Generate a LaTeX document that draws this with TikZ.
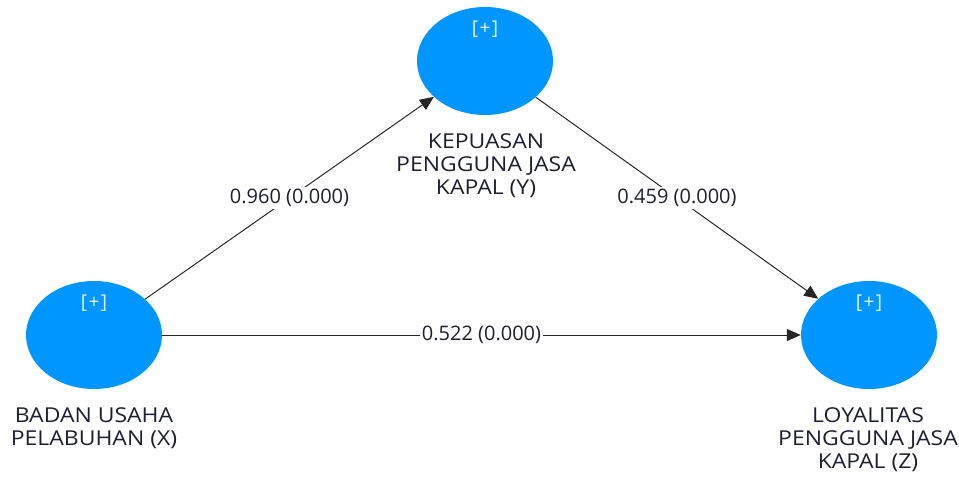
\documentclass[tikz,border=0pt]{standalone}
\usepackage{fontspec}
\setmainfont{Open Sans}
\newfontfamily\namefont[FakeStretch=1.12]{Open Sans}
\usetikzlibrary{positioning,shapes.geometric,arrows.meta}

\definecolor{lvblue}{RGB}{0,150,255}
\definecolor{txtgray}{RGB}{30,30,50}

\tikzset{
	latent/.style={ellipse,fill=lvblue,minimum width=136pt,minimum height=108pt,inner sep=0pt},
	plustxt/.style={text=white!90!lvblue,font=\fontsize{19}{22}\selectfont},
	lvname/.style={text=txtgray,align=center,font=\namefont\fontsize{20.5}{23}\selectfont},
	coef/.style={fill=white,text=txtgray,inner sep=2pt,font=\fontsize{20}{22}\selectfont},
	lvpath/.style={draw=black!85,line width=1pt,-{Triangle[length=14pt,width=12pt]}}
}

\begin{document}
\begin{tikzpicture}[x=1pt,y=-1pt]
	\useasboundingbox (0,0) rectangle (959,477);

	% constructs
	\node[latent] (X) at (94,335) {};
	\node[latent] (Y) at (485,61) {};
	\node[latent] (Z) at (869,335) {};

	\node[plustxt] (Xp) at ([yshift=-22pt]X.north) {[\kern1.5pt+\kern1.5pt]};
	\node[plustxt] (Yp) at ([yshift=-22pt]Y.north) {[\kern1.5pt+\kern1.5pt]};
	\node[plustxt] (Zp) at ([yshift=-22pt]Z.north) {[\kern1.5pt+\kern1.5pt]};

	\node[lvname] (Xn) at (94,428) {BADAN USAHA\\PELABUHAN (X)};
	\node[lvname] (Yn) at (486,166) {KEPUASAN\\PENGGUNA JASA\\KAPAL (Y)};
	\node[lvname] (Zn) at (868,440) {LOYALITAS\\PENGGUNA JASA\\KAPAL (Z)};

	% paths
	\draw[lvpath] (X) -- node[coef]{0.960 (0.000)} (Y);
	\draw[lvpath] (Y) -- node[coef]{0.459 (0.000)} (Z);
	\draw[lvpath] (X) -- node[coef]{0.522 (0.000)} (Z);

\end{tikzpicture}
\end{document}
